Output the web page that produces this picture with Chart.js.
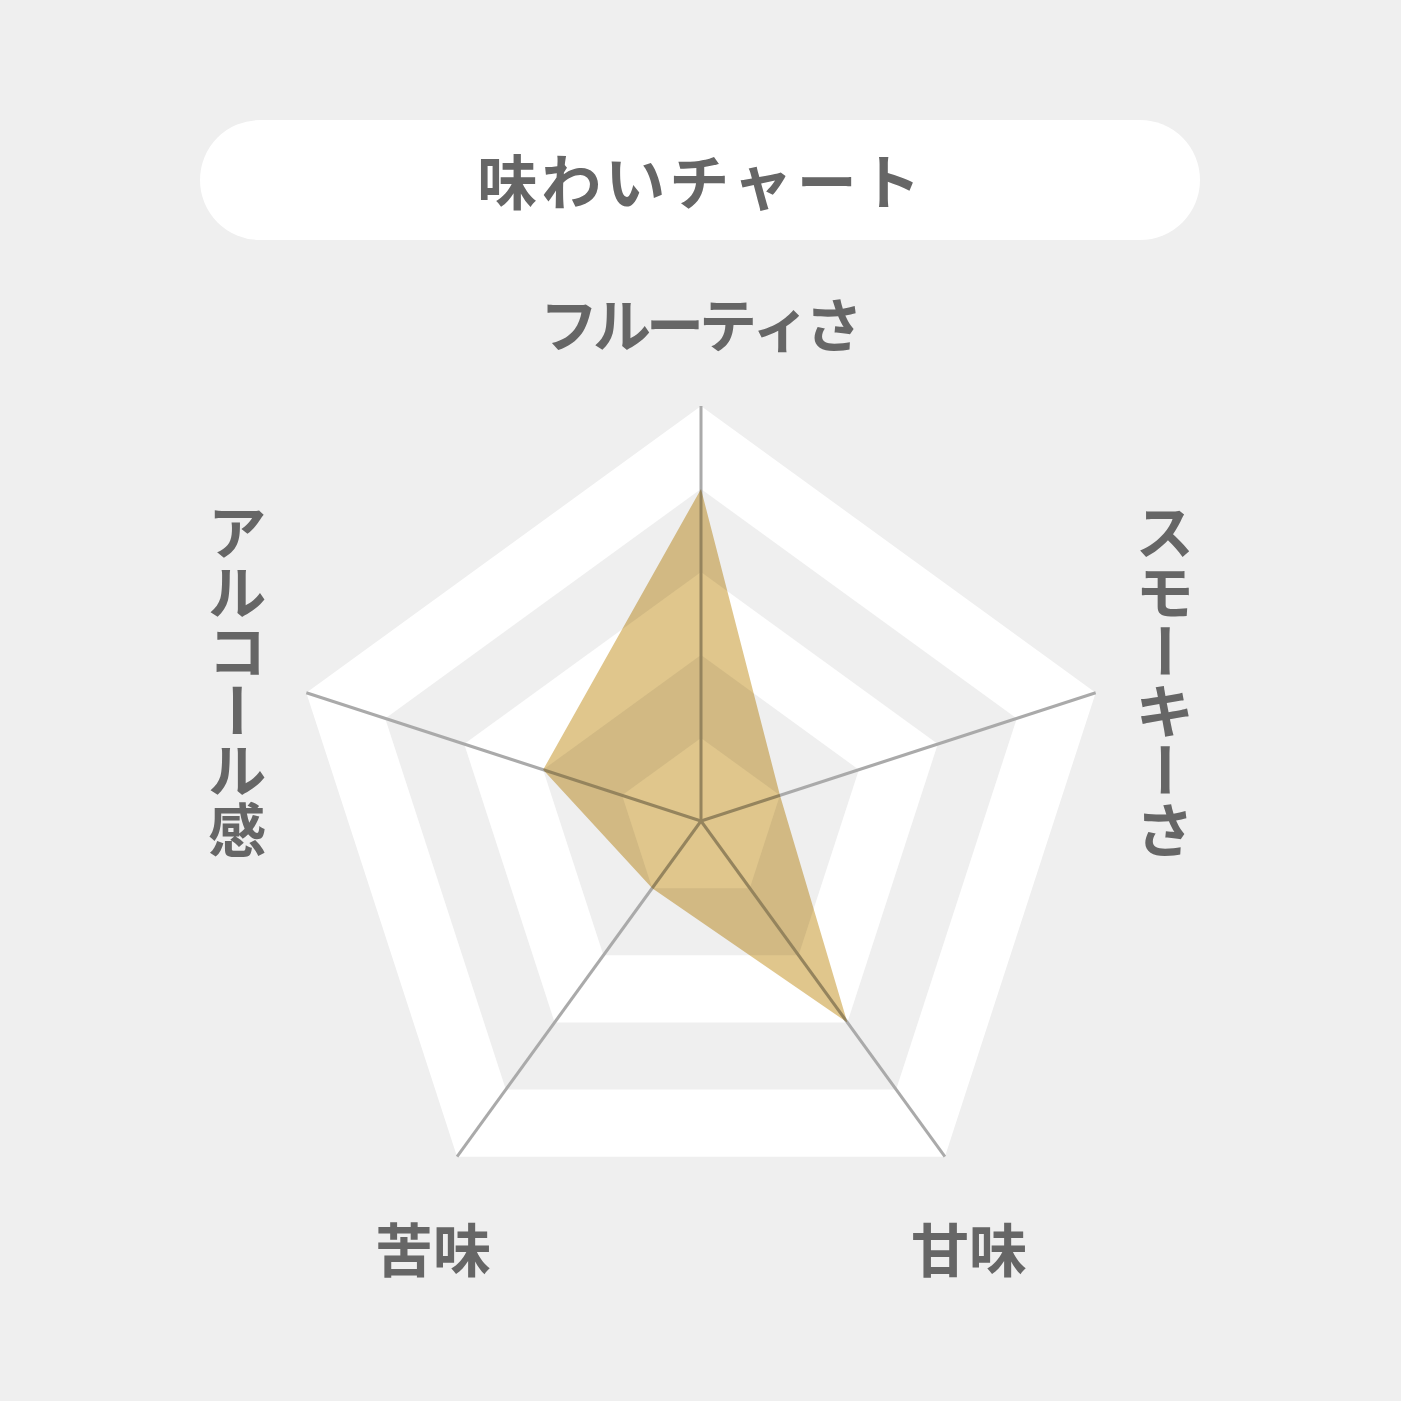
<!DOCTYPE html>
<html lang="ja">
<head>
<meta charset="utf-8">
<title>味わいチャート</title>
<script src="https://cdn.jsdelivr.net/npm/chart.js@4.4.1/dist/chart.umd.min.js"></script>
<style>
  html, body { margin: 0; padding: 0; background: #efefef; }
  #wrap { position: relative; width: 1401px; height: 1401px; }
  #title {
    position: absolute; left: 200px; top: 120px; width: 1000px; height: 120px;
    border-radius: 60px; background: #ffffff; color: #666666;
    font: bold 60px "Noto Sans CJK JP", sans-serif;
    letter-spacing: 4px; text-indent: 2px;
    line-height: 118px; text-align: center;
  }
  canvas { position: absolute; left: 0; top: 0; }
</style>
</head>
<body>
<div id="wrap">
  <div id="title">味わいチャート</div>
  <canvas id="tasteChart" width="1401" height="1401"></canvas>
</div>
<script>
// axes, clockwise from the top
const axisLabels = ["フルーティさ", "スモーキーさ", "甘味", "苦味", "アルコール感"];
const tasteValues = [4, 1, 3, 1, 2];
const scaleMin = 0;
const scaleMax = 5;

// alternating white / grey pentagon bands under the grid
const bandPlugin = {
  id: "bands",
  beforeDraw(chart) {
    const scale = chart.scales.r;
    const ctx = chart.ctx;
    const n = chart.data.labels.length;
    ctx.save();
    for (let v = scale.max; v > scale.min; v--) {
      const d = scale.getDistanceFromCenterForValue(v);
      ctx.beginPath();
      for (let i = 0; i < n; i++) {
        const p = scale.getPointPosition(i, d);
        if (i === 0) ctx.moveTo(p.x, p.y);
        else ctx.lineTo(p.x, p.y);
      }
      ctx.closePath();
      ctx.fillStyle = (scale.max - v) % 2 ? "#efefef" : "#ffffff";
      ctx.fill();
    }
    ctx.restore();
  }
};

// the fill is multiplied onto the bands and lines
const multiplyPlugin = {
  id: "multiply",
  beforeDatasetsDraw(chart) {
    chart.ctx.save();
    chart.ctx.globalCompositeOperation = "multiply";
  },
  afterDatasetsDraw(chart) {
    chart.ctx.restore();
  }
};

// axis names; the side ones are written top to bottom
const labelPlugin = {
  id: "axisLabels",
  afterDraw(chart) {
    const scale = chart.scales.r;
    const ctx = chart.ctx;
    ctx.save();
    ctx.fillStyle = "#666666";
    ctx.font = 'bold 58px "Noto Sans CJK JP", sans-serif';
    ctx.textAlign = "center";
    ctx.textBaseline = "middle";
    chart.data.labels.forEach((label, i) => {
      const p = scale.getPointPosition(i, scale.drawingArea);
      const c = Math.cos(p.angle);
      const s = Math.sin(p.angle);
      if (Math.abs(c) > 0.9) {
        const cx = p.x + Math.sign(c) * 69;
        const cy = p.y - 12;
        const chars = [...label];
        const pitch = 59.5;
        chars.forEach((ch, k) => {
          const y = cy + (k - (chars.length - 1) / 2) * pitch;
          if (ch === "ー") {
            ctx.save();
            ctx.translate(cx, y);
            ctx.rotate(Math.PI / 2);
            ctx.fillText(ch, 0, 0);
            ctx.restore();
          } else {
            ctx.fillText(ch, cx, y);
          }
        });
      } else if (s < 0) {
        ctx.save();
        ctx.letterSpacing = "-5px";
        ctx.fillText(label, p.x - 2, p.y - 81);
        ctx.restore();
      } else {
        ctx.fillText(label, p.x + Math.sign(c) * 24, p.y + 93);
      }
    });
    ctx.restore();
  }
};

const ctx = document.getElementById("tasteChart").getContext("2d");
new Chart(ctx, {
  type: "radar",
  data: {
    labels: axisLabels,
    datasets: [{
      label: "味わい",
      data: tasteValues,
      backgroundColor: "#e0c68c",
      borderWidth: 0,
      pointRadius: 0,
      fill: true
    }]
  },
  options: {
    responsive: false,
    devicePixelRatio: 1,
    animation: false,
    layout: { padding: { left: 286, right: 285, top: 406, bottom: 165 } },
    plugins: {
      legend: { display: false },
      tooltip: { enabled: false }
    },
    scales: {
      r: {
        min: scaleMin,
        max: scaleMax,
        ticks: { display: false, stepSize: 1 },
        grid: { display: false },
        angleLines: { color: "#aaaaaa", lineWidth: 3 },
        pointLabels: { display: false }
      }
    }
  },
  plugins: [bandPlugin, multiplyPlugin, labelPlugin]
});
</script>
</body>
</html>
